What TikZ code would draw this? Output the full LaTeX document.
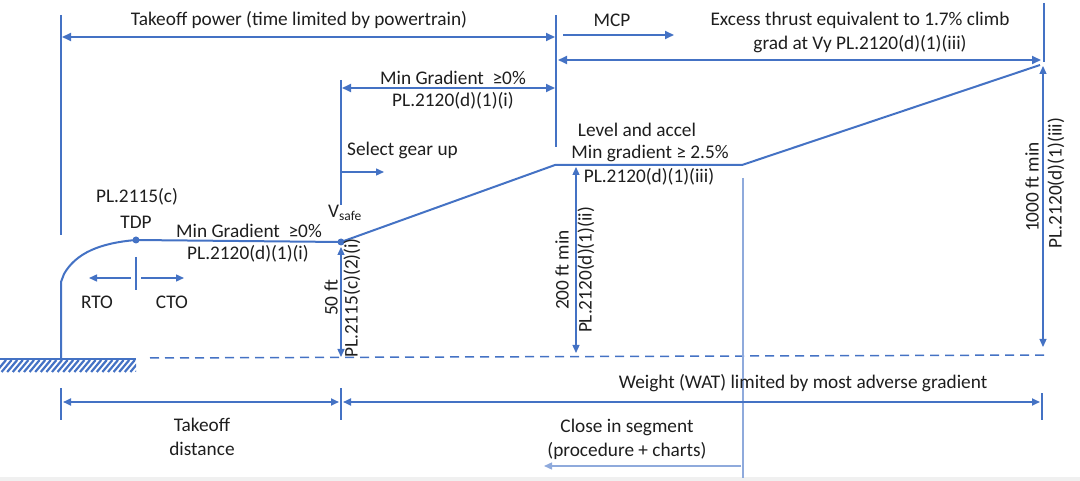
\documentclass[tikz,border=0pt]{standalone}
\usepackage{fontspec}
\setmainfont{Carlito}
\usetikzlibrary{arrows.meta}
\definecolor{lblue}{HTML}{4472C4}
\definecolor{pblue}{HTML}{8FAADC}
\definecolor{txt}{HTML}{1E1E1E}
\begin{document}
\begin{tikzpicture}[x=1pt,y=-1pt,
  lbl/.style={text=txt,font=\fontsize{19.3}{24}\selectfont,inner sep=0pt,align=center},
  rlbl/.style={lbl,rotate=90},
  tip/.tip={Triangle[length=9pt,width=8pt]},
  stip/.tip={Triangle[length=8pt,width=7pt]},
  span/.style={draw=lblue,line width=1.9pt,tip-tip},
  fwd/.style={draw=lblue,line width=1.7pt,-tip},
  bound/.style={draw=lblue,line width=1.5pt},
  vdim/.style={draw=lblue,line width=1.3pt,stip-stip},
  profile/.style={draw=lblue,line width=2pt,line join=round},
  dotn/.style={circle,fill=lblue,inner sep=0pt,minimum size=7pt},
  faint/.style={draw=pblue,line width=1.3pt}
]
\useasboundingbox (0,0) rectangle (1080,481);
\fill[gray!12] (0,477) rectangle (1080,481);

% ---- coordinates ----
\coordinate (tlL) at (61,15);   \coordinate (tlLb) at (61,235);
\coordinate (tlM) at (556,15);  \coordinate (tlMb) at (556,147);
\coordinate (tlR) at (1044,3);  \coordinate (tlRb) at (1044,62);
\coordinate (tlV) at (341,80);  \coordinate (tlVb) at (341,205);

% ---- top texts and spans ----
\node[lbl] (ttop) at (299,20) {Takeoff power (time limited by powertrain)};
\draw[bound] (tlL) -- (tlLb);
\draw[bound] (tlM) -- (tlMb);
\draw[bound] (tlR) -- (tlRb);
\draw[bound] (tlV) -- (tlVb);
\coordinate (a1) at (62,37); \coordinate (a2) at (555,37);
\draw[span] (a1) -- (a2);

\node[lbl] (mcp) at (612,20) {MCP};
\coordinate (m1) at (563,35); \coordinate (m2) at (674,35);
\draw[fwd] (m1) -- (m2);

\node[lbl] (exc) at (860,32) {Excess thrust equivalent to 1.7\% climb\\grad at Vy PL.2120(d)(1)(iii)};
\coordinate (e1) at (558,60); \coordinate (e2) at (1041,60);
\draw[span] (e1) -- (e2);

\node[lbl] (mg1) at (453,78) {Min Gradient\ \ ≥0\%};
\node[lbl] (mg1r) at (453,101) {PL.2120(d)(1)(i)};
\coordinate (g1) at (342,88); \coordinate (g2) at (555,88);
\draw[span] (g1) -- (g2);

\node[lbl,anchor=west] (sgu) at (347,150) {Select gear up};
\coordinate (s1) at (341,172); \coordinate (s2) at (384,172);
\draw[fwd,line width=1.4pt,-stip] (s1) -- (s2);

% ---- ground ----
\draw[lblue,line width=2.2pt] (0,359) -- (136,359);
\begin{scope}
\clip (0,360) rectangle (136,372);
\foreach \i in {0,...,25} \draw[lblue,line width=2.2pt] (\i*5.6-4,372) -- (\i*5.6+6,360);
\end{scope}
\draw[lblue,line width=1.5pt,dash pattern=on 9pt off 6pt] (150,358) -- (1045,355);

% ---- profile ----
\coordinate (p0) at (61,359);
\coordinate (p1) at (61,282);
\coordinate (p2) at (64,274);
\node[dotn] (tdp) at (136,240) {};
\node[dotn] (vsafe) at (341,242) {};
\coordinate (c1) at (555,165);
\coordinate (c2) at (742,165);
\coordinate (c3) at (1040,65);
\draw[profile] (p0) -- (p1) -- (p2) .. controls (76,253) and (100,243) .. (tdp.center) -- (vsafe.center) -- (c1) -- (c2) -- (c3);

\node[lbl] (pl2115) at (137,197) {PL.2115(c)};
\node[lbl] (tdpl) at (136,222) {TDP};
\node[lbl] (mg2) at (249,231) {Min Gradient\ \ ≥0\%};
\node[lbl] (mg2r) at (248,254) {PL.2120(d)(1)(i)};
\node[lbl] (vs) at (345,213) {V\textsubscript{safe}};

% RTO / CTO
\coordinate (rt1) at (136,257); \coordinate (rt2) at (136,290);
\draw[bound,line width=1.2pt] (rt1) -- (rt2);
\coordinate (r1) at (131,278); \coordinate (r2) at (89,278);
\coordinate (k1) at (141,278); \coordinate (k2) at (184,278);
\draw[fwd,line width=1.4pt,-stip] (r1) -- (r2);
\draw[fwd,line width=1.4pt,-stip] (k1) -- (k2);
\node[lbl] (rto) at (97,302) {RTO};
\node[lbl] (cto) at (172,302) {CTO};

% 50 ft
\coordinate (d1a) at (341,247); \coordinate (d1b) at (341,357);
\draw[vdim] (d1a) -- (d1b);
\node[rlbl] (f50) at (331,298) {50 ft};
\node[rlbl] (f50r) at (352,298) {PL.2115(c)(2)(i)};

% level and accel
\node[lbl] (lev) at (637,130) {Level and accel};
\node[lbl] (lev2) at (650,153) {Min gradient ≥ 2.5\%};
\node[lbl] (lev3) at (649,177) {PL.2120(d)(1)(iii)};

% 200 ft
\coordinate (d2a) at (576,167); \coordinate (d2b) at (576,353);
\draw[vdim] (d2a) -- (d2b);
\node[rlbl] (f200) at (562,270) {200 ft min};
\node[rlbl] (f200r) at (586,270) {PL.2120(d)(1)(ii)};

% 1000 ft
\coordinate (d3a) at (1043,66); \coordinate (d3b) at (1043,347);
\draw[vdim] (d3a) -- (d3b);
\node[rlbl] (f1000) at (1032,187) {1000 ft min};
\node[rlbl] (f1000r) at (1056,183) {PL.2120(d)(1)(iii)};

% close-in marker
\coordinate (ci1) at (743,178); \coordinate (ci2) at (743,478);
\draw[faint] (ci1) -- (ci2);

% ---- bottom ----
\node[lbl] (wat) at (803,383) {Weight (WAT) limited by most adverse gradient};
\coordinate (bt1) at (61,388); \coordinate (bt1b) at (61,420);
\coordinate (bt2) at (341,388); \coordinate (bt2b) at (341,420);
\coordinate (bt3) at (1042,393); \coordinate (bt3b) at (1042,420);
\draw[bound,line width=1.2pt] (bt1) -- (bt1b);
\draw[bound,line width=1.2pt] (bt2) -- (bt2b);
\draw[bound,line width=1.2pt] (bt3) -- (bt3b);
\coordinate (b1) at (63,402); \coordinate (b2) at (339,402);
\coordinate (b3) at (343,402); \coordinate (b4) at (1040,402);
\draw[span,stip-stip] (b1) -- (b2);
\draw[span,stip-stip] (b3) -- (b4);
\node[lbl] (tod) at (202,437) {Takeoff\\distance};
\node[lbl] (cis) at (627,439) {Close in segment\\(procedure + charts)};
\coordinate (ca1) at (741,466); \coordinate (ca2) at (544,466);
\draw[faint,-stip] (ca1) -- (ca2);
\end{tikzpicture}
\end{document}
